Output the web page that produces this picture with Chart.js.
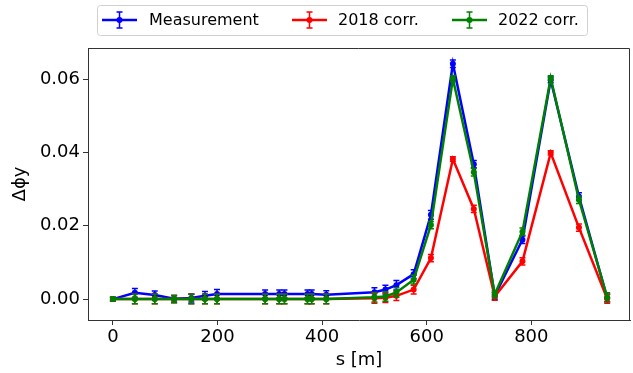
<!DOCTYPE html>
<html>
<head>
<meta charset="utf-8">
<script src="https://cdn.jsdelivr.net/npm/chart.js@4/dist/chart.umd.min.js"></script>
<style>
  html, body { margin: 0; padding: 0; background: #fff; }
  #wrap { width: 633px; height: 373px; }
</style>
</head>
<body>
<div id="wrap"><canvas id="chartPhase" width="633" height="373"></canvas></div>
<script>
// positions along the ring, s [m]
const sPos = [0, 42, 80, 117, 150, 176, 199, 291, 318, 328, 372, 380, 408, 500, 521, 542, 575, 608, 650, 690, 730, 783, 837, 891, 945];

const measurement = [0.0000, 0.0017, 0.0011, 0.0001, 0.0003, 0.0009, 0.0014, 0.0014, 0.0014, 0.0014, 0.0014, 0.0014, 0.0012, 0.0019, 0.0026, 0.0038, 0.0068, 0.0230, 0.0642, 0.0368, 0.0009, 0.0162, 0.0598, 0.0280, 0.0003];
const measErr     = [0.0005, 0.0012, 0.0011, 0.0009, 0.0011, 0.0012, 0.0012, 0.0011, 0.0011, 0.0011, 0.0011, 0.0011, 0.0011, 0.0012, 0.0012, 0.0013, 0.0012, 0.0012, 0.0010, 0.0010, 0.0010, 0.0010, 0.0008, 0.0010, 0.0010];

const corr2018    = [0, 0, 0, 0, 0, 0, 0, 0, 0, 0, 0, 0, 0, 0.0002, 0.0004, 0.0009, 0.0026, 0.0112, 0.0382, 0.0246, 0.0007, 0.0103, 0.0399, 0.0195, 0.0001];
const err2018     = [0.0005, 0.0013, 0.0013, 0.0010, 0.0013, 0.0013, 0.0013, 0.0013, 0.0013, 0.0013, 0.0013, 0.0013, 0.0013, 0.0013, 0.0013, 0.0013, 0.0012, 0.0010, 0.0006, 0.0010, 0.0010, 0.0010, 0.0006, 0.0010, 0.0012];

const corr2022    = [0, 0, 0, 0, 0, 0, 0, 0, 0, 0, 0, 0, 0, 0.0005, 0.0007, 0.0018, 0.0053, 0.0202, 0.0601, 0.0346, 0.0013, 0.0184, 0.0603, 0.0271, 0.0005];
const err2022     = [0.0005, 0.0013, 0.0013, 0.0010, 0.0013, 0.0013, 0.0013, 0.0013, 0.0013, 0.0013, 0.0013, 0.0013, 0.0013, 0.0013, 0.0013, 0.0013, 0.0012, 0.0010, 0.0008, 0.0010, 0.0010, 0.0010, 0.0006, 0.0010, 0.0012];

const xTicks = [0, 200, 400, 600, 800];
const yTicks = [0, 0.02, 0.04, 0.06];

const FONT = "'DejaVu Sans', sans-serif";
const AXIS_COLOR = '#333';

function toPoints(ys) {
    return sPos.map((s, i) => ({ x: s, y: ys[i] }));
}

// error bars drawn right after each dataset so the stacking order matches
const errorBars = {
    id: 'errorBars',
    afterDatasetDraw(chart, args) {
        const ds = chart.data.datasets[args.index];
        if (!ds.errors) return;
        const ctx = chart.ctx;
        const yScale = chart.scales.y;
        ctx.save();
        ctx.strokeStyle = ds.borderColor;
        ctx.lineWidth = 1.5;
        args.meta.data.forEach((pt, i) => {
            const v = ds.data[i].y;
            const e = ds.errors[i];
            const top = yScale.getPixelForValue(v + e);
            const bot = yScale.getPixelForValue(v - e);
            ctx.beginPath();
            ctx.moveTo(pt.x, top); ctx.lineTo(pt.x, bot);
            ctx.moveTo(pt.x - 3, top); ctx.lineTo(pt.x + 3, top);
            ctx.moveTo(pt.x - 3, bot); ctx.lineTo(pt.x + 3, bot);
            ctx.stroke();
        });
        ctx.restore();
    }
};

// top/right spines and the framed legend
const frameAndLegend = {
    id: 'frameAndLegend',
    afterDraw(chart) {
        const ctx = chart.ctx;
        const a = chart.chartArea;
        ctx.save();
        ctx.strokeStyle = AXIS_COLOR;
        ctx.lineWidth = 1;
        ctx.beginPath();
        ctx.moveTo(a.left, a.top + 0.5); ctx.lineTo(a.right - 0.5, a.top + 0.5);
        ctx.lineTo(a.right - 0.5, a.bottom);
        ctx.stroke();

        // legend box
        const bx = 97, by = 5, bw = 490, bh = 30, r = 3;
        ctx.strokeStyle = '#d0d0d0';
        ctx.fillStyle = 'rgba(255,255,255,0.8)';
        ctx.beginPath();
        ctx.roundRect(bx + 0.5, by + 0.5, bw, bh, r);
        ctx.fill();
        ctx.stroke();

        const cy = by + bh / 2;
        const items = [
            { x: 102, tx: 149, ds: chart.data.datasets[0] },
            { x: 292, tx: 338, ds: chart.data.datasets[1] },
            { x: 452, tx: 498, ds: chart.data.datasets[2] }
        ];
        ctx.font = '16px ' + FONT;
        ctx.textBaseline = 'middle';
        items.forEach(it => {
            const c = it.ds.borderColor;
            const mid = it.x + 17.5;
            ctx.strokeStyle = c;
            ctx.lineWidth = 2.5;
            ctx.beginPath();
            ctx.moveTo(it.x, cy); ctx.lineTo(it.x + 35, cy);
            ctx.stroke();
            ctx.lineWidth = 1.5;
            ctx.beginPath();
            ctx.moveTo(mid, cy - 8); ctx.lineTo(mid, cy + 8);
            ctx.moveTo(mid - 3, cy - 8); ctx.lineTo(mid + 3, cy - 8);
            ctx.moveTo(mid - 3, cy + 8); ctx.lineTo(mid + 3, cy + 8);
            ctx.stroke();
            ctx.fillStyle = c;
            ctx.beginPath();
            ctx.arc(mid, cy, 3, 0, Math.PI * 2);
            ctx.fill();
            ctx.fillStyle = '#000';
            ctx.fillText(it.ds.label, it.tx, cy + 1);
        });
        ctx.restore();
    }
};

const ctx = document.getElementById('chartPhase').getContext('2d');

new Chart(ctx, {
    type: 'line',
    data: {
        datasets: [
            {
                label: 'Measurement',
                data: toPoints(measurement),
                errors: measErr,
                borderColor: '#0000ff',
                backgroundColor: '#0000ff',
                order: 2
            },
            {
                label: '2018 corr.',
                data: toPoints(corr2018),
                errors: err2018,
                borderColor: '#ff0000',
                backgroundColor: '#ff0000',
                order: 1
            },
            {
                label: '2022 corr.',
                data: toPoints(corr2022),
                errors: err2022,
                borderColor: '#008000',
                backgroundColor: '#008000',
                order: 0
            }
        ]
    },
    options: {
        responsive: false,
        animation: false,
        devicePixelRatio: 1,
        layout: { padding: { top: 48, right: 1, left: 0, bottom: 0 } },
        elements: {
            line: { borderWidth: 2.5, tension: 0, fill: false },
            point: { radius: 3, borderWidth: 0, hoverRadius: 3 }
        },
        plugins: {
            legend: { display: false },
            tooltip: { enabled: false }
        },
        scales: {
            x: {
                type: 'linear',
                min: -47.6,
                max: 988.6,
                afterBuildTicks: scale => { scale.ticks = xTicks.map(v => ({ value: v })); },
                afterFit: scale => { scale.height = 53; },
                ticks: {
                    color: '#000',
                    font: { family: FONT, size: 18 },
                    padding: 2,
                    maxRotation: 0,
                    callback: v => String(v)
                },
                grid: { drawOnChartArea: false, tickLength: 5, color: AXIS_COLOR },
                border: { color: AXIS_COLOR, width: 1 },
                title: {
                    display: true,
                    text: 's [m]',
                    color: '#000',
                    font: { family: FONT, size: 18 },
                    padding: { top: 0, bottom: 2 }
                }
            },
            y: {
                type: 'linear',
                min: -0.0057,
                max: 0.0685,
                afterBuildTicks: scale => { scale.ticks = yTicks.map(v => ({ value: v })); },
                afterFit: scale => { scale.width = 88; },
                ticks: {
                    color: '#000',
                    font: { family: FONT, size: 18 },
                    padding: 3,
                    callback: v => v.toFixed(2)
                },
                grid: { drawOnChartArea: false, tickLength: 5, color: AXIS_COLOR },
                border: { color: AXIS_COLOR, width: 1 },
                title: {
                    display: true,
                    text: 'Δϕy',
                    color: '#000',
                    font: { family: FONT, size: 18 },
                    padding: { top: 10, bottom: 0 }
                }
            }
        }
    },
    plugins: [errorBars, frameAndLegend]
});
</script>
</body>
</html>
